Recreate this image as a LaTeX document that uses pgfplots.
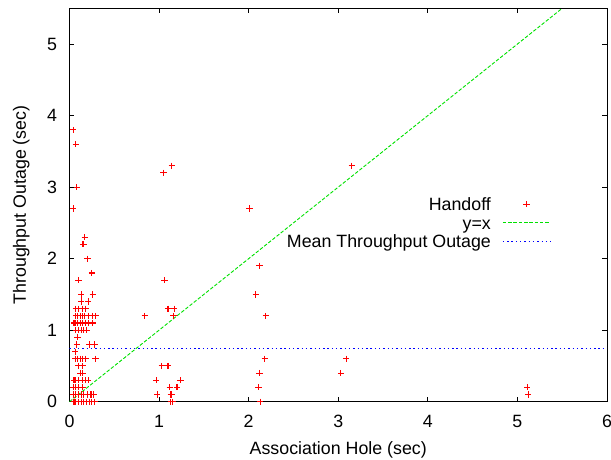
\documentclass[border=0pt]{standalone}
\usepackage{fontspec}
\setmainfont{Liberation Sans}
\usepackage{pgfplots}
\pgfplotsset{compat=1.18}

\definecolor{gpgreen}{RGB}{0,225,0}
\definecolor{gpblue}{RGB}{0,0,255}

% legend samples: a 47.4pt line, or a single mark centred on that width
\pgfplotsset{
  linelegend/.style={legend image code/.code={\draw[##1] (0pt,0pt) -- (47.4pt,0pt);}},
  marklegend/.style={legend image code/.code={
    \path[draw=none] (0pt,0pt) -- (47.4pt,0pt);
    \draw[##1] plot[only marks] coordinates {(23.7pt,0pt)};}},
}

% handoff measurements: association hole (x) vs throughput outage (y), seconds
\pgfplotstableread{
x y
0.04 3.8
0.07 3.6
0.08 3.0
0.04 2.7
0.17 2.3
0.15 2.2
0.16 2.2
0.20 2.0
0.25 1.8
0.10 1.7
0.13 1.5
0.26 1.5
0.13 1.4
0.21 1.4
0.07 1.3
0.10 1.3
0.15 1.3
0.18 1.3
0.07 1.2
0.09 1.2
0.12 1.2
0.15 1.2
0.17 1.2
0.21 1.2
0.26 1.2
0.29 1.2
0.05 1.1
0.07 1.1
0.09 1.1
0.12 1.1
0.15 1.1
0.18 1.1
0.21 1.1
0.26 1.1
0.07 1.0
0.10 1.0
0.13 1.0
0.16 1.0
0.19 1.0
0.09 0.9
0.08 0.8
0.22 0.8
0.28 0.8
0.065 0.7
0.065 0.6
0.09 0.6
0.12 0.6
0.15 0.6
0.18 0.6
0.29 0.6
0.10 0.5
0.15 0.5
0.12 0.4
0.15 0.4
0.05 0.3
0.07 0.3
0.10 0.3
0.15 0.3
0.18 0.3
0.21 0.3
0.04 0.2
0.07 0.2
0.10 0.2
0.15 0.2
0.04 0.1
0.07 0.1
0.10 0.1
0.13 0.1
0.16 0.1
0.20 0.1
0.24 0.1
0.27 0.1
0.05 0.0
0.07 0.0
0.10 0.0
0.13 0.0
0.16 0.0
0.19 0.0
0.22 0.0
0.25 0.0
0.28 0.0
0.84 1.2
0.97 0.3
0.98 0.1
1.03 0.5
1.10 0.5
1.05 3.2
1.14 3.3
1.06 1.7
1.10 1.3
1.17 1.3
1.16 1.2
1.24 0.3
1.12 0.2
1.20 0.2
1.13 0.1
1.14 0.1
1.13 0.0
1.15 0.0
2.01 2.7
2.12 1.9
2.08 1.5
2.19 1.2
2.18 0.6
2.12 0.4
2.11 0.2
2.13 0.0
3.15 3.3
3.09 0.6
3.03 0.4
5.11 0.2
5.12 0.1
}\handoff

\begin{document}
\begin{tikzpicture}[font=\fontsize{17.8pt}{21pt}\selectfont]
\begin{axis}[
  at={(0,0)}, anchor=south west,
  scale only axis, width=537.5pt, height=393.4pt,
  xmin=0, xmax=6, ymin=0, ymax=5.5,
  xtick={0,1,2,3,4,5,6}, ytick={0,1,2,3,4,5},
  /pgf/number format/assume math mode=true,
  tick align=inside, major tick length=5pt,
  axis line style={line width=0.9pt, black},
  every tick/.style={line width=0.8pt, black},
  xticklabel style={anchor=base, inner sep=0pt, yshift=-25.3pt},
  yticklabel style={anchor=east, inner sep=0pt, xshift=-12.2pt},
  xlabel={Association Hole (sec)},
  ylabel={Throughput Outage (sec)},
  xlabel style={at={(axis description cs:0.5,0)}, anchor=base, yshift=-52.6pt},
  ylabel style={at={(axis description cs:0,0.5)}, anchor=base, yshift=43.5pt},
  legend plot pos=right,
  legend cell align=right,
  legend style={draw=none, fill=none, inner sep=0pt, outer sep=0pt,
    column sep=11.6pt, row sep=5.8pt,
    nodes={inner sep=0pt, text height=12.7pt, text depth=0pt},
    at={(axis cs:5.372,2.848)}, anchor=north east},
]
\addplot[color=red, only marks, mark=+, mark size=3.1pt, line width=1.1pt, marklegend]
  table {\handoff};
\addlegendentry{Handoff}

\addplot[gpgreen, line width=0.9pt, dash pattern=on 3.5pt off 1.8pt, linelegend]
  coordinates {(0,0) (5.5,5.5)};
\addlegendentry{y=x}

\addplot[gpblue, line width=0.9pt, dash pattern=on 1.4pt off 2.9pt, linelegend]
  coordinates {(0,0.75) (6,0.75)};
\addlegendentry{Mean Throughput Outage}
\end{axis}
\pgfresetboundingbox
\path (-69.5pt,-57.3pt) rectangle (541.5pt,401.7pt);
\end{tikzpicture}
\end{document}
